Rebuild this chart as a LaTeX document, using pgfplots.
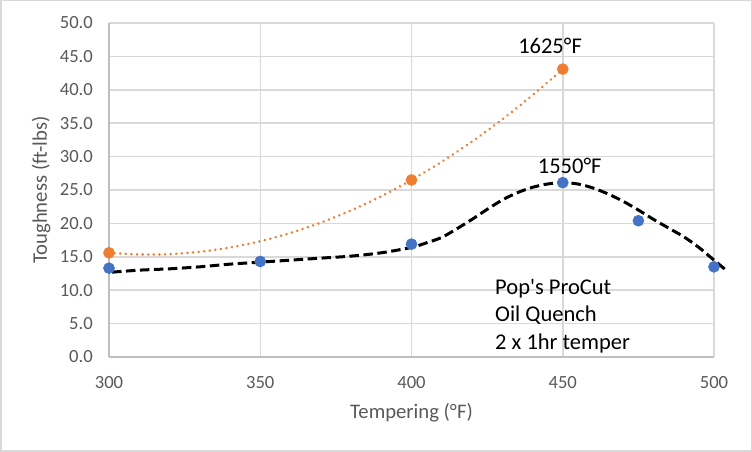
\documentclass[border=0pt]{standalone}
\usepackage{pgfplots}
\pgfplotsset{compat=1.18}
\usepackage{fontspec}
\setmainfont{Carlito}
\newfontfamily\plaincal{Carlito}
\definecolor{tickgray}{HTML}{595959}
\definecolor{gridgray}{HTML}{D9D9D9}
\definecolor{axgray}{HTML}{BFBFBF}
\definecolor{xlblue}{HTML}{4472C4}
\definecolor{xlorange}{HTML}{ED7D31}
\begin{document}
\begin{tikzpicture}
\path[use as bounding box] (0,0) rectangle (752pt,452pt);
\draw[gridgray, line width=1.5pt] (0.75pt,0.75pt) rectangle (751.25pt,451.25pt);
\begin{axis}[
  at={(109pt,95pt)}, anchor=south west,
  scale only axis, width=605pt, height=334pt,
  xmin=300, xmax=500, ymin=0, ymax=50,
  xtick={300,350,400,450,500}, ytick={0,5,10,15,20,25,30,35,40,45,50},
  axis x line*=bottom, axis y line*=left,
  axis line style={draw=axgray, line width=1.5pt, -},
  every outer x axis line/.append style={-},
  every outer y axis line/.append style={-},
  grid=major, grid style={gridgray, line width=1.5pt},
  tick style={draw=none},
  clip=false,
  /pgf/number format/assume math mode=true,
  ticklabel style={font=\fontsize{18.6}{22}\selectfont, text=tickgray},
  y tick label style={/pgf/number format/fixed, /pgf/number format/fixed zerofill, /pgf/number format/precision=1},
  xticklabel style={anchor=north, inner sep=0pt, yshift=-19.5pt},
  yticklabel style={anchor=east, inner sep=0pt, xshift=-16pt},
  xlabel={Tempering (°F)}, ylabel={Toughness (ft-lbs)},
  label style={font=\fontsize{20.7}{24}\selectfont, text=tickgray},
  xlabel style={at={(axis description cs:0.5,-0.1856)}, anchor=base},
  ylabel style={at={(axis description cs:-0.1025,0.5)}, anchor=base},
]
% orange polynomial trendline (dotted)
\addplot[xlorange, line width=2.8pt, line cap=round, dash pattern=on 0.01pt off 5.6pt, smooth, no marks] coordinates {
(300,15.60) (310,15.35) (320,15.40) (330,15.75) (340,16.39) (350,17.33) (360,18.57) (370,20.11) (380,21.94) (390,24.07) (400,26.50) (410,29.23) (420,32.25) (430,35.57) (440,39.19) (450,43.10)
};
% black dashed trendline
\addplot[black, line width=3pt, dash pattern=on 9.5pt off 4.5pt, smooth, no marks] coordinates {
(301,12.7) (310,13.0) (320,13.2) (330,13.5) (340,13.9) (350,14.2) (360,14.5) (370,14.8) (380,15.1) (390,15.6) (400,16.4) (405,17.1) (410,17.9) (415,19.2) (420,20.6) (425,22.1) (430,23.5) (435,24.6) (440,25.4) (445,25.9) (450,26.1) (455,25.9) (460,25.3) (465,24.4) (470,23.3) (475,22.0) (480,20.6) (485,19.3) (490,18.0) (495,16.4) (500,14.5) (504,13.0)
};
% data points
\addplot[only marks, mark=*, mark size=5.6pt, xlblue, mark options={fill=xlblue, draw=xlblue}] coordinates {
(300,13.3) (350,14.3) (400,16.9) (450,26.1) (475,20.4) (500,13.5)
};
\addplot[only marks, mark=*, mark size=5.6pt, xlorange, mark options={fill=xlorange, draw=xlorange}] coordinates {
(300,15.6) (400,26.5) (450,43.1)
};
\node[font=\fontsize{22.5}{27}\selectfont, inner sep=0pt] at (axis cs:445.8,46.6) {1625°F};
\node[font=\fontsize{22.5}{27}\selectfont, inner sep=0pt] at (axis cs:452.3,28.6) {1550°F};
\node[font=\plaincal\fontsize{22.5}{27}\selectfont, inner sep=0pt, anchor=base west] at (axis cs:427.6,9.43) {Pop's ProCut};
\node[font=\fontsize{22.5}{27}\selectfont, inner sep=0pt, anchor=base west] at (axis cs:427.6,5.24) {Oil Quench};
\node[font=\fontsize{22.5}{27}\selectfont, inner sep=0pt, anchor=base west] at (axis cs:427.6,1.05) {2 x 1hr temper};
\end{axis}
\end{tikzpicture}
\end{document}
